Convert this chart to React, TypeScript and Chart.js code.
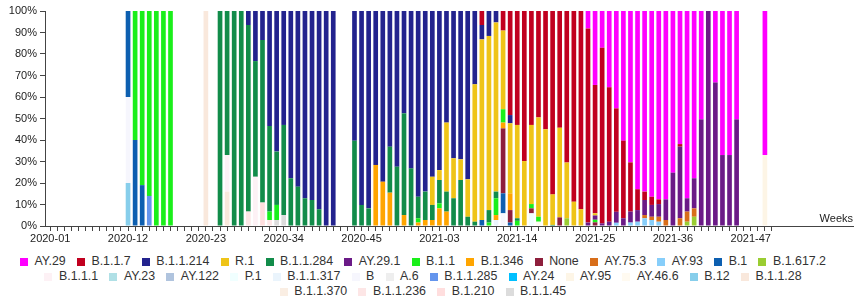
import React, { useEffect, useRef } from "react";
import { Chart, registerables } from "chart.js";

Chart.register(...registerables);

// ---- categories (ISO weeks) ----
const WEEKS: string[] = [];
for (let w = 1; w <= 53; w++) WEEKS.push(`2020-${String(w).padStart(2, "0")}`);
for (let w = 1; w <= 50; w++) WEEKS.push(`2021-${String(w).padStart(2, "0")}`);
const LABEL_EVERY = 11;
const X_TITLE = "Weeks";
const Y_TICKS = [0, 10, 20, 30, 40, 50, 60, 70, 80, 90, 100];

type Pt = [string, number];

// ---- series values (% of sequences per week) ----
const AY_29: Pt[] = [["2021-24", 8.1], ["2021-25", 34.4], ["2021-26", 17.1], ["2021-27", 35.5], ["2021-28", 45.3], ["2021-29", 60.3], ["2021-30", 70.4], ["2021-31", 82.9], ["2021-32", 84], ["2021-33", 86.4], ["2021-34", 87.6], ["2021-35", 87.6], ["2021-36", 75.2], ["2021-37", 61.9], ["2021-38", 87.1], ["2021-39", 77.8], ["2021-40", 50.4], ["2021-42", 33.3], ["2021-43", 67], ["2021-44", 67], ["2021-45", 50.4], ["2021-49", 67]];
const B_1_1_7: Pt[] = [["2021-09", 6.5], ["2021-12", 9.1], ["2021-13", 48.4], ["2021-14", 53], ["2021-15", 69.8], ["2021-16", 53], ["2021-17", 49.5], ["2021-18", 55], ["2021-19", 85.3], ["2021-20", 54.3], ["2021-21", 70.5], ["2021-22", 88.7], ["2021-23", 92.2], ["2021-24", 90.3], ["2021-25", 59.7], ["2021-26", 81.7], ["2021-27", 62.5], ["2021-28", 48.1], ["2021-29", 36.1], ["2021-30", 22.9], ["2021-31", 9.7], ["2021-32", 3.9], ["2021-33", 3.8], ["2021-34", 2.2], ["2021-37", 1.2]];
const B_1_1_214: Pt[] = [["2020-29", 6.5], ["2020-30", 23.3], ["2020-31", 13.5], ["2020-32", 53.5], ["2020-33", 65.4], ["2020-34", 53], ["2020-35", 77.8], ["2020-36", 81.7], ["2020-37", 87.1], ["2020-38", 87.9], ["2020-39", 92.2], ["2020-40", 100], ["2020-41", 100], ["2020-44", 60.3], ["2020-45", 90.2], ["2020-46", 91.8], ["2020-47", 71.6], ["2020-48", 79.4], ["2020-49", 63.1], ["2020-50", 72.4], ["2020-51", 47.6], ["2020-52", 73.2], ["2020-53", 86.4], ["2021-01", 84], ["2021-02", 77.1], ["2021-03", 74], ["2021-04", 51.9], ["2021-05", 68.5], ["2021-06", 69], ["2021-07", 78.3], ["2021-08", 34.1], ["2021-09", 6.7], ["2021-10", 11.6], ["2021-11", 5.3], ["2021-13", 3.8]];
const R_1: Pt[] = [["2021-02", 13.1], ["2021-03", 4.6], ["2021-04", 32.1], ["2021-05", 18.6], ["2021-06", 9.6], ["2021-07", 17.4], ["2021-08", 63.9], ["2021-09", 84], ["2021-10", 81], ["2021-11", 78.7], ["2021-12", 36.6], ["2021-13", 32.6], ["2021-14", 43.4], ["2021-15", 30.2], ["2021-16", 36.8], ["2021-17", 46.2], ["2021-18", 45], ["2021-19", 14.2], ["2021-20", 41.7], ["2021-21", 25.9], ["2021-22", 11.3], ["2021-23", 7.8], ["2021-25", 1]];
const B_1_1_284: Pt[] = [["2020-25", 100], ["2020-26", 67], ["2020-27", 100], ["2020-28", 100], ["2020-29", 86.8], ["2020-30", 53.8], ["2020-31", 75.6], ["2020-32", 39.8], ["2020-33", 24.8], ["2020-34", 41.9], ["2020-35", 22.2], ["2020-36", 18.3], ["2020-37", 12.9], ["2020-38", 12.1], ["2020-39", 7.8], ["2020-44", 39.7], ["2020-45", 9.8], ["2020-46", 8.2], ["2020-49", 21.4], ["2020-50", 27.6], ["2020-51", 47.3], ["2020-52", 26.8], ["2020-53", 10], ["2021-01", 13.2], ["2021-02", 7], ["2021-03", 10.9], ["2021-04", 9.3], ["2021-05", 12.9], ["2021-06", 21.4], ["2021-07", 4.3], ["2021-08", 2], ["2021-10", 5.8], ["2021-11", 3.1], ["2021-14", 1.2], ["2021-19", 0.5]];
const AY_29_1: Pt[] = [["2021-24", 1.6], ["2021-25", 2], ["2021-26", 1.2], ["2021-27", 2], ["2021-28", 5.1], ["2021-29", 3.6], ["2021-30", 5.1], ["2021-31", 5.4], ["2021-32", 7], ["2021-33", 5.5], ["2021-34", 5.9], ["2021-35", 9.6], ["2021-36", 24.8], ["2021-37", 33.3], ["2021-38", 6.2], ["2021-39", 14], ["2021-40", 49.6], ["2021-41", 100], ["2021-42", 66.7], ["2021-43", 33], ["2021-44", 33], ["2021-45", 49.6]];
const B_1_1: Pt[] = [["2020-13", 60], ["2020-14", 81], ["2020-15", 86], ["2020-16", 100], ["2020-17", 100], ["2020-18", 100], ["2020-32", 3.9], ["2020-33", 7], ["2020-53", 2], ["2021-03", 2.3], ["2021-10", 1.6], ["2021-11", 7.8], ["2021-12", 6.2], ["2021-14", 2.4], ["2021-16", 2], ["2021-17", 2.3], ["2021-25", 1.2]];
const B_1_346: Pt[] = [["2020-47", 28.4], ["2020-48", 20.6], ["2020-49", 15.5], ["2020-51", 5.1], ["2020-53", 1.6], ["2021-01", 2.8], ["2021-02", 2.8], ["2021-03", 8.2], ["2021-04", 6.7], ["2021-11", 2.3], ["2021-12", 2.7], ["2021-13", 7.8]];
const NONE: Pt[] = [["2021-12", 30.2], ["2021-13", 5.8], ["2021-16", 2.3], ["2021-20", 4], ["2021-25", 1.7]];
const AY_75_3: Pt[] = [["2021-32", 1.5], ["2021-33", 1.5], ["2021-34", 2.3], ["2021-35", 2.8], ["2021-37", 3.6], ["2021-38", 4.7], ["2021-39", 3.9]];
const AY_93: Pt[] = [["2021-28", 1.5], ["2021-30", 1.6], ["2021-31", 2], ["2021-32", 3.6], ["2021-33", 2.8], ["2021-34", 2]];
const B_1: Pt[] = [["2020-12", 40], ["2020-13", 40], ["2020-14", 19], ["2021-09", 2.8], ["2021-12", 9.3], ["2021-13", 1.6]];
const B_1_617_2: Pt[] = [["2021-21", 3.6], ["2021-38", 2], ["2021-39", 4.3]];
const B_1_1_1: Pt[] = [["2020-26", 17], ["2020-30", 22.9]];
const AY_23: Pt[] = [];
const AY_122: Pt[] = [];
const P_1: Pt[] = [["2021-16", 5.9]];
const B_1_1_317: Pt[] = [["2021-11", 2.8]];
const B: Pt[] = [["2020-12", 40], ["2021-12", 5.9]];
const A_6: Pt[] = [];
const B_1_1_285: Pt[] = [["2020-15", 14]];
const AY_24: Pt[] = [];
const AY_95: Pt[] = [["2021-49", 33]];
const AY_46_6: Pt[] = [["2021-17", 2]];
const B_12: Pt[] = [["2020-12", 20]];
const B_1_1_28: Pt[] = [["2020-23", 100], ["2020-26", 16]];
const B_1_1_370: Pt[] = [];
const B_1_1_236: Pt[] = [["2020-29", 6.7], ["2020-32", 2.8]];
const B_1_210: Pt[] = [["2020-31", 10.9]];
const B_1_1_45: Pt[] = [["2020-33", 2.8], ["2020-34", 5.1]];

// legend order (first = top of stack)
const SERIES: { name: string; color: string; values: Pt[] }[] = [
  { name: "AY.29", color: "#ff00ff", values: AY_29 },
  { name: "B.1.1.7", color: "#c1001f", values: B_1_1_7 },
  { name: "B.1.1.214", color: "#23238e", values: B_1_1_214 },
  { name: "R.1", color: "#efc418", values: R_1 },
  { name: "B.1.1.284", color: "#128c4a", values: B_1_1_284 },
  { name: "AY.29.1", color: "#6b1a87", values: AY_29_1 },
  { name: "B.1.1", color: "#1aef1a", values: B_1_1 },
  { name: "B.1.346", color: "#ffa500", values: B_1_346 },
  { name: "None", color: "#8e1f3c", values: NONE },
  { name: "AY.75.3", color: "#d86e1a", values: AY_75_3 },
  { name: "AY.93", color: "#87cefa", values: AY_93 },
  { name: "B.1", color: "#0d5fb0", values: B_1 },
  { name: "B.1.617.2", color: "#9acd32", values: B_1_617_2 },
  { name: "B.1.1.1", color: "#fdf1f5", values: B_1_1_1 },
  { name: "AY.23", color: "#b0e0e6", values: AY_23 },
  { name: "AY.122", color: "#b0c4de", values: AY_122 },
  { name: "P.1", color: "#f0ffff", values: P_1 },
  { name: "B.1.1.317", color: "#eaf4fc", values: B_1_1_317 },
  { name: "B", color: "#f6f6fd", values: B },
  { name: "A.6", color: "#eeeeee", values: A_6 },
  { name: "B.1.1.285", color: "#6495ed", values: B_1_1_285 },
  { name: "AY.24", color: "#00bfff", values: AY_24 },
  { name: "AY.95", color: "#fdf5e6", values: AY_95 },
  { name: "AY.46.6", color: "#fffaf0", values: AY_46_6 },
  { name: "B.12", color: "#87ceeb", values: B_12 },
  { name: "B.1.1.28", color: "#f9e8dc", values: B_1_1_28 },
  { name: "B.1.1.370", color: "#faeee3", values: B_1_1_370 },
  { name: "B.1.1.236", color: "#fde6e6", values: B_1_1_236 },
  { name: "B.1.210", color: "#ffdede", values: B_1_210 },
  { name: "B.1.1.45", color: "#dcdcdc", values: B_1_1_45 },
];

const FONT = '"Liberation Sans", Arial, Helvetica, sans-serif';

const weeksTitle = {
  id: "weeksTitle",
  afterDraw(chart: any) {
    const { ctx, chartArea } = chart;
    ctx.save();
    ctx.font = `11px ${FONT}`;
    ctx.fillStyle = "#222";
    ctx.textAlign = "right";
    ctx.textBaseline = "alphabetic";
    ctx.fillText(X_TITLE, chartArea.right - 1, chartArea.bottom - 4);
    ctx.restore();
  },
};

export default function App() {
  const ref = useRef<HTMLCanvasElement | null>(null);

  useEffect(() => {
    if (!ref.current) return;
    const datasets = SERIES.slice()
      .reverse()
      .map((s) => ({
        label: s.name,
        backgroundColor: s.color,
        borderWidth: 0,
        barPercentage: 0.66,
        categoryPercentage: 1,
        data: s.values.map(([wk, v]) => ({ x: WEEKS.indexOf(wk), y: v })),
      }));

    const chart = new Chart(ref.current, {
      type: "bar",
      data: { datasets },
      plugins: [weeksTitle],
      options: {
        animation: false,
        responsive: false,
        devicePixelRatio: 1,
        layout: { padding: { top: 11, right: 0, left: 0, bottom: 0 } },
        plugins: { legend: { display: false }, tooltip: { enabled: false } },
        scales: {
          x: {
            type: "linear",
            stacked: true,
            offset: false,
            min: -0.735,
            max: 113.59,
            afterBuildTicks: (scale: any) => {
              scale.ticks = WEEKS.map((_, i) => ({ value: i }));
            },
            afterFit: (scale: any) => {
              scale.height = 24;
            },
            ticks: {
              autoSkip: false,
              maxRotation: 0,
              minRotation: 0,
              padding: 1,
              color: "#222",
              font: { family: FONT, size: 11 },
              callback: (v: any) => (Number(v) % LABEL_EVERY === 0 ? WEEKS[Number(v)] : ""),
            },
            grid: { offset: false, drawOnChartArea: false, drawTicks: true, tickLength: 5, tickColor: "#444" },
            border: { color: "#444", width: 1 },
          },
          y: {
            stacked: true,
            min: 0,
            max: 100,
            afterBuildTicks: (scale: any) => {
              scale.ticks = Y_TICKS.map((v) => ({ value: v }));
            },
            afterFit: (scale: any) => {
              scale.width = 45;
            },
            ticks: {
              padding: 3,
              color: "#222",
              font: { family: FONT, size: 11 },
              callback: (v: any) => `${v}%`,
            },
            grid: { drawOnChartArea: false, drawTicks: true, tickLength: 5, tickColor: "#444" },
            border: { color: "#444", width: 1 },
          },
        },
      },
    });
    return () => chart.destroy();
  }, []);

  return (
    <div style={{ position: "absolute", left: 0, top: 0, width: 854, height: 298, background: "#fff", overflow: "hidden" }}>
      <canvas ref={ref} width={854} height={250} style={{ display: "block", width: 854, height: 250 }} />
      <div
        style={{
          position: "absolute",
          top: 254,
          left: 10,
          width: 826,
          display: "flex",
          flexWrap: "wrap",
          justifyContent: "center",
          columnGap: 11.2,
          rowGap: 0,
          fontFamily: FONT,
          fontSize: 12.4,
          lineHeight: "15px",
          color: "#333",
        }}
      >
        {SERIES.map((s) => (
          <span key={s.name} style={{ display: "inline-flex", alignItems: "center", whiteSpace: "nowrap" }}>
            <span style={{ display: "inline-block", width: 8, height: 8, background: s.color, marginRight: 6.5 }} />
            {s.name}
          </span>
        ))}
      </div>
    </div>
  );
}
